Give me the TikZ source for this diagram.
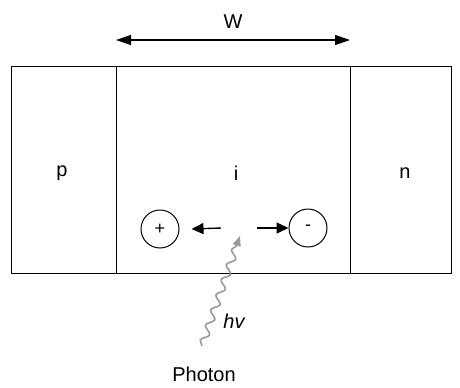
\documentclass[tikz,border=0pt]{standalone}
\usepackage{fontspec}
\setmainfont{Liberation Sans}
\usetikzlibrary{positioning, arrows.meta, decorations.pathmorphing}
\definecolor{photongray}{HTML}{9A9A9A}

\begin{document}
\begin{tikzpicture}[
  x=0.5pt, y=-0.5pt,
  font=\fontsize{10}{12}\selectfont,
  region/.style={
    rectangle, draw=black, line width=0.5pt,
    minimum height=103.5pt,
    inner sep=0pt, outer sep=0pt
  },
  charge/.style={
    circle, draw=black, line width=0.5pt,
    minimum size=19pt, inner sep=0pt,
    font=\fontsize{9}{10}\selectfont
  },
  widtharrow/.style={{Triangle[length=7.5pt, width=5pt]}-{Triangle[length=7.5pt, width=5pt]}, line width=0.6pt},
  drift/.style={-{Triangle[length=6pt, width=5.5pt]}, line width=0.7pt},
  photon/.style={
    draw=photongray, line width=0.8pt,
    decorate, decoration={snake, amplitude=1.8pt, segment length=8pt, post length=5pt},
    -{Triangle[length=5pt, width=4pt]}
  }
]

% --- frame of the picture
\useasboundingbox (0,0) rectangle (460,387);

% =============================================================================
% p-i-n regions (units = px of the reference, y downwards)
% =============================================================================
\node[region, minimum width=52.5pt] (pregion) at (63.5, 169.5) {};
\node[region, minimum width=117pt, anchor=west] (iregion) at (pregion.east) {};
\node[region, minimum width=50.5pt, anchor=west] (nregion) at (iregion.east) {};
\node (plabel) at (62, 173) {p};
\node (ilabel) at (236, 173) {i};
\node (nlabel) at (405, 173) {n};

% --- depletion width
\coordinate (wleft) at ([yshift=13pt]iregion.north west);
\coordinate (wright) at ([yshift=13pt]iregion.north east);
\draw[widtharrow] (wleft) -- (wright);
\node (wlabel) at (233, 22) {W};

% =============================================================================
% Carriers
% =============================================================================
\node[charge] (hole) at (160, 229) {+};
\node[charge] (electron) at (308, 228) {-};
\coordinate (origin) at (239, 228);
\draw[drift] ([xshift=-9pt]origin) -- ([xshift=6pt]hole.east);
\draw[drift] ([xshift=9pt]origin) -- (electron.west);

% =============================================================================
% Photon
% =============================================================================
\node (photonlabel) at (204, 374) {Photon};
\coordinate (photonstart) at (202, 346);
\coordinate (photonend) at (240, 236);
\draw[photon] (photonstart) -- (photonend);
\node[font=\itshape\fontsize{10}{12}\selectfont] (hv) at (234, 321) {hv};

\end{tikzpicture}
\end{document}
